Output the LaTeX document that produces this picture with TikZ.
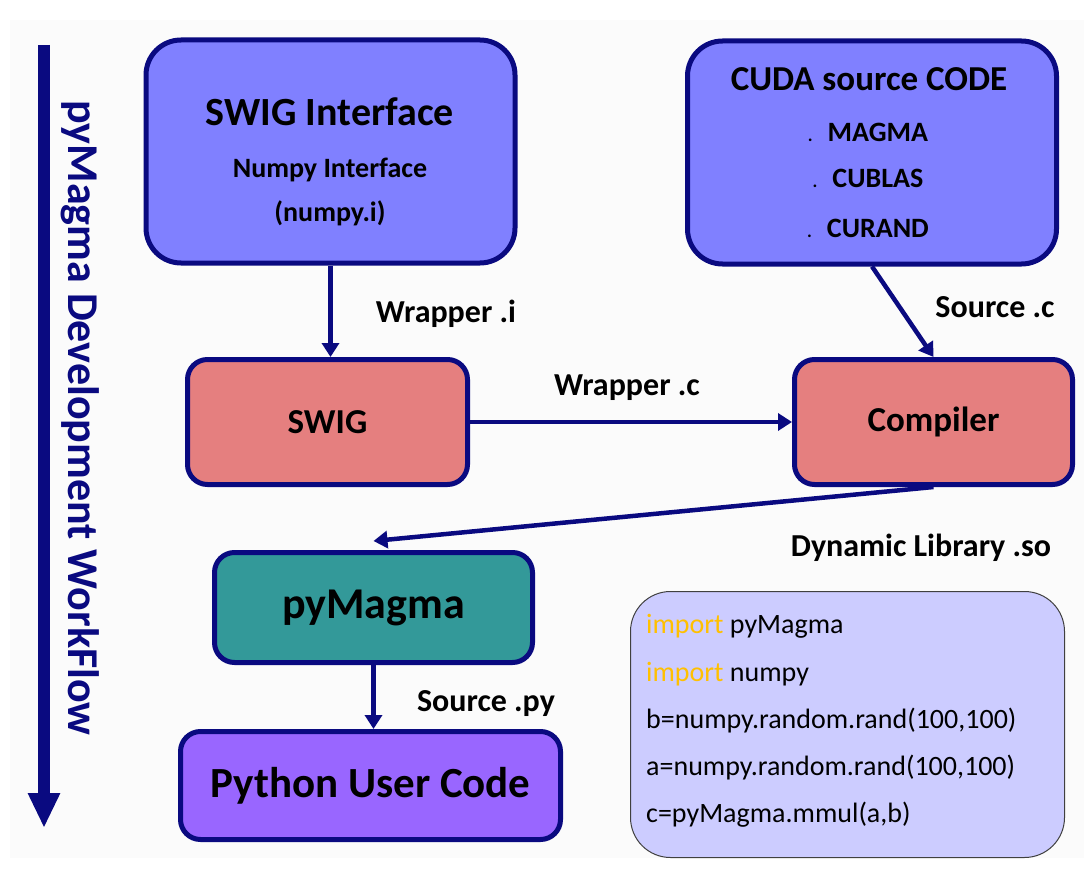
\documentclass[tikz,border=0pt]{standalone}
\usepackage{fontspec}
\setmainfont{Carlito}
\usepackage{tikz}
\usetikzlibrary{arrows.meta}

\definecolor{navy}{HTML}{0A0A80}
\definecolor{ifaceblue}{HTML}{8080FF}
\definecolor{swigred}{HTML}{E57F7F}
\definecolor{pymagteal}{HTML}{339999}
\definecolor{userpurple}{HTML}{9966FF}
\definecolor{codelilac}{HTML}{CCCCFF}
\definecolor{keyword}{HTML}{FFC000}
\newcommand{\sizept}[1]{\fontsize{#1pt}{#1pt}\selectfont}

\begin{document}
\begin{tikzpicture}
[x=1pt, y=-1pt,
bigbox/.style={rectangle, draw=navy, fill=ifaceblue, line width=5pt, rounded corners=35pt, minimum width=369pt, minimum height=223pt},
stagebox/.style={rectangle, draw=navy, line width=5pt, rounded corners=20pt, font=\bfseries\sizept{35}},
codebox/.style={rectangle, draw=black!75, fill=codelilac, line width=1pt, rounded corners=40pt, minimum width=434pt, minimum height=266pt},
intext/.style={anchor=base, inner sep=0pt, font=\bfseries\sizept{28}},
edgetext/.style={anchor=base, inner sep=0pt, font=\bfseries\sizept{32}},
codeline/.style={anchor=base west, inner sep=0pt, font=\sizept{28}},
flow/.style={draw=navy, line width=4.5pt, -{Triangle[width=17pt,length=14pt]}},
]
\useasboundingbox (0,0) rectangle (1084,869);
\fill[black!1.5] (10,20) rectangle (1084,858);

% workflow direction
\draw[navy, line width=12pt, -{Triangle[width=30pt,length=35pt]}] (44,45) -- (44,828);
\node[rotate=-90, text=navy, font=\bfseries\sizept{44}] (workflow) at (80,418) {pyMagma Development WorkFlow};

% inputs
\node[bigbox] (iface) at (330.5,151.5) {};
\node[intext, font=\bfseries\sizept{40}] (ifaceA) at (330,126) {SWIG Interface};
\node[intext] (ifaceB) at (330,178) {Numpy Interface};
\node[intext] (ifaceC) at (330,222) {(numpy.i)};

\node[bigbox] (cuda) at (872,152.5) {};
\node[intext, font=\bfseries\sizept{35}] (cudaA) at (869,91) {CUDA source CODE};
\node[intext] (cudaB) at (868,142) {{\sizept{18}.}\hspace{15pt}MAGMA};
\node[intext] (cudaC) at (868,188) {{\sizept{18}.}\hspace{15pt}CUBLAS};
\node[intext] (cudaD) at (868,237) {{\sizept{18}.}\hspace{15pt}CURAND};

% build
\node[stagebox, fill=swigred, minimum width=280pt, minimum height=125pt] (swig) at (327.5,422) {SWIG};
\node[stagebox, fill=swigred, minimum width=278pt, minimum height=125pt] (comp) at (933.5,422) {Compiler};

% result
\node[stagebox, fill=pymagteal, minimum width=318pt, minimum height=110pt, font=\bfseries\sizept{44}] (pymag) at (373.5,607.5) {pyMagma};
\node[stagebox, fill=userpurple, minimum width=380pt, minimum height=108pt, font=\bfseries\sizept{43}] (user) at (370.5,785.5) {Python User Code};

% example
\node[codebox] (code) at (847.5,724.5) {};
\node[codeline] (imp1) at (646,633) {\textcolor{keyword}{import} pyMagma};
\node[codeline] (imp2) at (646,681) {\textcolor{keyword}{import} numpy};
\node[codeline] (randb) at (646,728) {b=numpy.random.rand(100,100)};
\node[codeline] (randa) at (646,775) {a=numpy.random.rand(100,100)};
\node[codeline] (mmul) at (646,822) {c=pyMagma.mmul(a,b)};

\draw[flow] (iface.south) -- (iface.south |- swig.north);
\draw[flow] (cuda.south) -- (comp.north);
\draw[flow] (swig.east) -- (comp.west);
\draw[flow] (comp.south) -- ([yshift=9pt]pymag.north);
\draw[flow] (pymag.south) -- (pymag.south |- user.north);

\node[edgetext] (wrapi) at (446,322) {Wrapper .i};
\node[edgetext] (wrapc) at (627,395) {Wrapper .c};
\node[edgetext] (srcc) at (995,317) {Source .c};
\node[edgetext] (dynlib) at (921,556) {Dynamic Library .so};
\node[edgetext] (srcpy) at (486,711) {Source .py};
\end{tikzpicture}
\end{document}
